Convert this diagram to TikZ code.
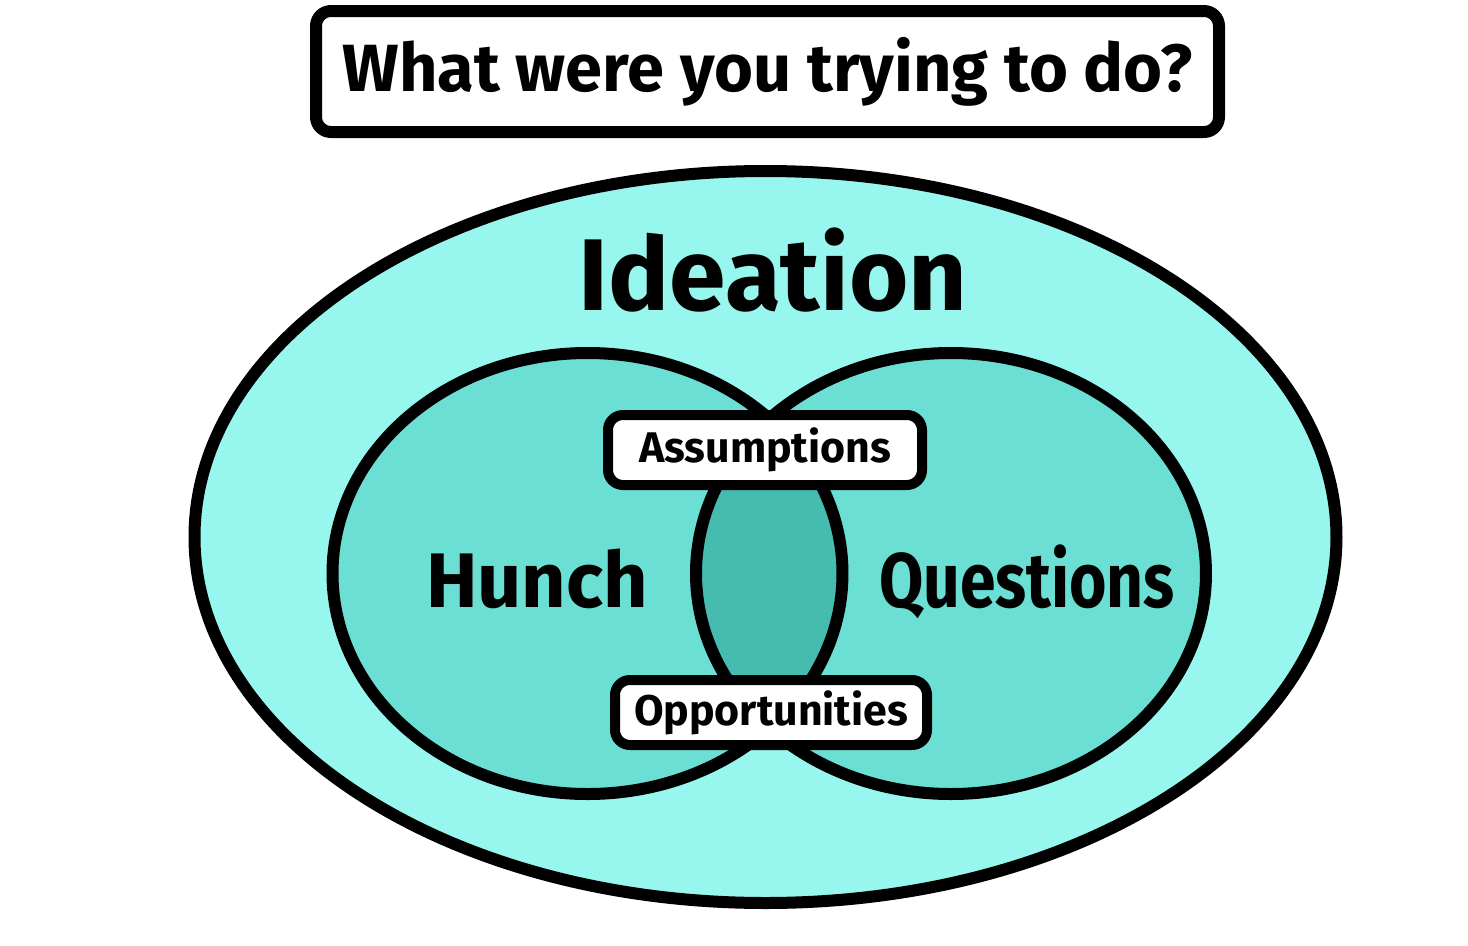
\documentclass[tikz,border=0pt]{standalone}
\usepackage{fontspec}
\setmainfont{Fira Sans}
\definecolor{ideacyan}{HTML}{97F7EE}
\definecolor{setcyan}{HTML}{6BDFD4}
\definecolor{lenscyan}{HTML}{46BBB0}
\begin{document}
\begin{tikzpicture}[line join=round, line cap=round, font=\bfseries,
	pixline/.style={line width=0.12cm},
	tagbox/.style={draw, fill=white, line width=0.10cm, rounded corners=0.15cm, inner sep=0pt}]
	\def\rx{2.55} \def\ry{2.205} % Radii of the two sets
	\def\cy{-5.735}
	\useasboundingbox (0,0) rectangle (14.68,-9.46);
	% Ideation
	\filldraw[fill=ideacyan, pixline] (7.655,-5.37) ellipse [x radius=5.71, y radius=3.66];
	% Hunch and Questions
	\fill[setcyan] (5.875,\cy) ellipse [x radius=\rx, y radius=\ry];
	\fill[setcyan] (9.51,\cy) ellipse [x radius=\rx, y radius=\ry];
	\begin{scope}
		\clip (5.875,\cy) ellipse [x radius=\rx, y radius=\ry];
		\fill[lenscyan] (9.51,\cy) ellipse [x radius=\rx, y radius=\ry];
	\end{scope}
	\draw[pixline] (5.875,\cy) ellipse [x radius=\rx, y radius=\ry];
	\draw[pixline] (9.51,\cy) ellipse [x radius=\rx, y radius=\ry];
	\node[anchor=base, font=\bfseries\fontsize{29}{31}\selectfont] (ideation) at (7.73,-3.10) {Ideation};
	\node[anchor=base, font=\bfseries\fontsize{22}{24}\selectfont] (hunch) at (5.37,-6.07) {Hunch};
	\node[anchor=base, font=\bfseries\fontsize{22}{24}\selectfont] (questions) at (10.27,-6.07) {\scalebox{0.83}[1]{Questions}};
	% Labels
	\node[tagbox, minimum width=3.14cm, minimum height=0.70cm, font=\bfseries\fontsize{12.2}{14}\selectfont] (assumptions) at (7.65,-4.50) {Assumptions};
	\node[tagbox, minimum width=3.12cm, minimum height=0.65cm, font=\bfseries\fontsize{12.2}{14}\selectfont] (opportunities) at (7.71,-7.125) {Opportunities};
	\node[tagbox, line width=0.12cm, minimum width=9.03cm, minimum height=1.21cm, font=\bfseries\fontsize{19}{21}\selectfont] (question) at (7.675,-0.715) {What were you trying to do?};
\end{tikzpicture}
\end{document}
